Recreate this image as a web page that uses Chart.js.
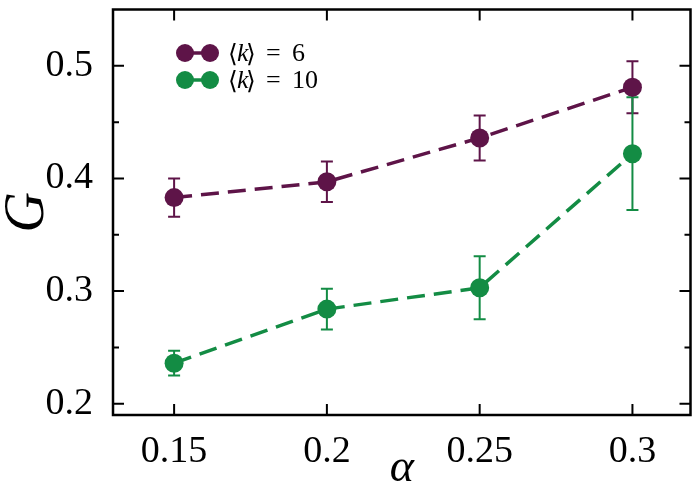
<!DOCTYPE html>
<html><head><meta charset="utf-8">
<script src="https://cdn.jsdelivr.net/npm/chart.js@4"></script>
<style>html,body{margin:0;padding:0;background:#fff}#wrap{width:700px;height:496px}</style>
</head><body><div id="wrap"><canvas id="c" width="700" height="496"></canvas></div>
<script>
const alphas = [0.15, 0.2, 0.25, 0.3];
const gK6 = [0.383, 0.397, 0.436, 0.481];
const errK6 = [0.017, 0.018, 0.020, 0.023];
const gK10 = [0.236, 0.284, 0.303, 0.422];
const errK10 = [0.011, 0.018, 0.028, 0.050];
const xTicks = [0.15, 0.2, 0.25, 0.3];
const yTicks = [0.2, 0.3, 0.4, 0.5];
const yMinorTicks = [0.25, 0.35, 0.45];
const legendValues = ['6', '10'];

const PURPLE = '#5e1448';
const GREEN = '#138c44';
const SERIF = "'Liberation Serif', serif";

function pts(ys) { return alphas.map((x, i) => ({x: x, y: ys[i]})); }

const errorBars = {
  id: 'errorBars',
  beforeDatasetsDraw(chart) {
    const ctx = chart.ctx, xs = chart.scales.x, ys = chart.scales.y;
    chart.data.datasets.forEach(ds => {
      ctx.save();
      ctx.strokeStyle = ds.borderColor;
      ctx.lineWidth = 2;
      ds.data.forEach((p, i) => {
        const e = ds.errors[i];
        const px = xs.getPixelForValue(p.x);
        const top = ys.getPixelForValue(p.y + e), bot = ys.getPixelForValue(p.y - e);
        ctx.beginPath();
        ctx.moveTo(px, top); ctx.lineTo(px, bot);
        ctx.moveTo(px - 6, top); ctx.lineTo(px + 6, top);
        ctx.moveTo(px - 6, bot); ctx.lineTo(px + 6, bot);
        ctx.stroke();
      });
      ctx.restore();
    });
  }
};

const frame = {
  id: 'frame',
  afterDraw(chart) {
    const ctx = chart.ctx, a = chart.chartArea, xs = chart.scales.x, ys = chart.scales.y;
    ctx.save();
    ctx.strokeStyle = '#000';
    ctx.lineWidth = 2.5;
    ctx.strokeRect(a.left, a.top, a.right - a.left, a.bottom - a.top);
    ctx.lineWidth = 2;
    ctx.beginPath();
    xTicks.forEach(v => {
      const px = xs.getPixelForValue(v);
      ctx.moveTo(px, a.bottom); ctx.lineTo(px, a.bottom - 11);
      ctx.moveTo(px, a.top); ctx.lineTo(px, a.top + 11);
    });
    yTicks.forEach(v => {
      const py = ys.getPixelForValue(v);
      ctx.moveTo(a.left, py); ctx.lineTo(a.left + 11, py);
      ctx.moveTo(a.right, py); ctx.lineTo(a.right - 11, py);
    });
    yMinorTicks.forEach(v => {
      const py = ys.getPixelForValue(v);
      ctx.moveTo(a.left, py); ctx.lineTo(a.left + 6, py);
      ctx.moveTo(a.right, py); ctx.lineTo(a.right - 6, py);
    });
    ctx.stroke();
    // legend
    chart.data.datasets.forEach((ds, i) => {
      const y = 53 + i * 27;
      const x1 = 185, x2 = 210;
      ctx.strokeStyle = ds.borderColor;
      ctx.fillStyle = ds.borderColor;
      ctx.lineWidth = 3.5;
      ctx.beginPath(); ctx.moveTo(x1, y); ctx.lineTo(x2, y); ctx.stroke();
      [x1, x2].forEach(cx => { ctx.beginPath(); ctx.arc(cx, y, 9, 0, Math.PI * 2); ctx.fill(); });
      ctx.fillStyle = '#000';
      ctx.textBaseline = 'alphabetic';
      ctx.textAlign = 'left';
      const base = y + 8;
      ctx.font = "25px 'DejaVu Serif', serif";
      ctx.fillText('\u27E8', 228, base + 1);
      ctx.font = "italic 26px 'Liberation Serif', serif";
      ctx.fillText('k', 237, base);
      ctx.font = "25px 'DejaVu Serif', serif";
      ctx.fillText('\u27E9', 246, base + 1);
      ctx.font = "26px 'Liberation Serif', serif";
      ctx.fillText('=', 266, base);
      ctx.fillText(legendValues[i], 292, base);
    });
    ctx.restore();
  }
};

new Chart(document.getElementById('c'), {
  type: 'scatter',
  data: {
    datasets: [
      {label: '<k> = 6', data: pts(gK6), errors: errK6, borderColor: PURPLE, backgroundColor: PURPLE,
       showLine: true, borderWidth: 3.5, borderDash: [18, 9], pointRadius: 9.5, pointHoverRadius: 9.5, pointBorderWidth: 0},
      {label: '<k> = 10', data: pts(gK10), errors: errK10, borderColor: GREEN, backgroundColor: GREEN,
       showLine: true, borderWidth: 3.5, borderDash: [18, 9], pointRadius: 9.5, pointHoverRadius: 9.5, pointBorderWidth: 0}
    ]
  },
  options: {
    responsive: false,
    devicePixelRatio: 1,
    animation: false,
    layout: {padding: {top: 9, right: 6, left: 0, bottom: 0}},
    plugins: {legend: {display: false}, tooltip: {enabled: false}},
    scales: {
      x: {
        type: 'linear', min: 0.13, max: 0.319,
        grid: {display: false}, border: {display: false},
        afterBuildTicks: s => { s.ticks = xTicks.map(v => ({value: v})); },
        afterFit: s => { s.height = 81; s.paddingLeft = 0; s.paddingRight = 0; },
        ticks: {color: '#000', padding: 6, font: {family: SERIF, size: 38}, callback: v => String(v), maxRotation: 0, autoSkip: false},
        title: {display: true, text: '\u03B1', color: '#000', padding: {top: 0, bottom: 4}, font: {family: SERIF, size: 46, style: 'italic', lineHeight: 1}}
      },
      y: {
        type: 'linear', min: 0.19, max: 0.55,
        grid: {display: false}, border: {display: false},
        afterBuildTicks: s => { s.ticks = yTicks.map(v => ({value: v})); },
        afterFit: s => { s.width = 113; s.paddingTop = 0; s.paddingBottom = 0; },
        ticks: {color: '#000', padding: 12, font: {family: SERIF, size: 38}, callback: v => String(v), autoSkip: false},
        title: {display: true, text: 'G', color: '#000', padding: 0, font: {family: SERIF, size: 56, style: 'italic', lineHeight: 1}}
      }
    }
  },
  plugins: [errorBars, frame]
});
</script>
</body></html>
